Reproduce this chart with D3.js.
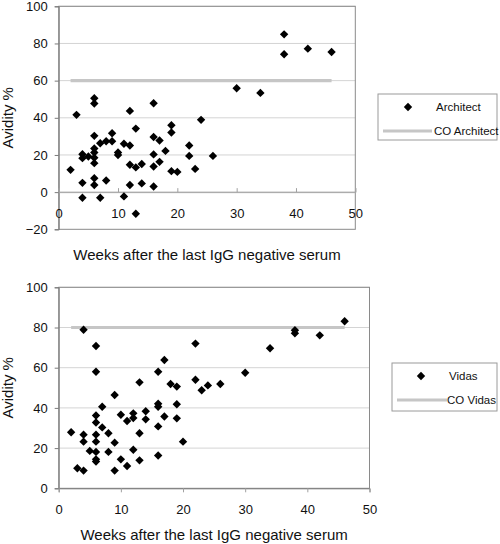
<!DOCTYPE html>
<html>
<head>
<meta charset="utf-8">
<script src="https://cdn.jsdelivr.net/npm/d3@7"></script>
<style>
  html, body { margin: 0; padding: 0; background: #fff; }
  svg { display: block; font-family: "Liberation Sans", Arial, sans-serif; }
</style>
</head>
<body>
<svg id="chart" width="500" height="544"></svg>
<script>
// ---- data ----
const xTicks = [0, 10, 20, 30, 40, 50];
const yTicksTop = [-20, 0, 20, 40, 60, 80, 100];
const yTicksBottom = [0, 20, 40, 60, 80, 100];

const archWeeks = [2, 3, 4, 4, 4, 4, 5, 6, 6, 6, 6, 6, 6, 6, 6, 6, 7, 7, 8, 8, 9, 9, 10, 10, 11, 11,
  12, 12, 12, 12, 13, 13, 13, 14, 14, 16, 16, 16, 16, 16, 17, 17, 18, 19, 19, 19, 20, 22, 22, 23, 24, 26,
  30, 34, 38, 38, 42, 46];
const archAvidity = [12, 41.6, 20.4, 18.3, 5.0, -3.0, 19.2, 50.5, 47.7, 30.3, 23.5, 21.3, 18.5, 15.6, 7.5, 3.8,
  26.3, -3, 27.4, 6.3, 31.7, 27.4, 21.3, 20, 26, -2.3, 43.7, 25.1, 14.7, 3.8, 34.2, 13.3, -11.6, 15.1, 4.7,
  47.8, 29.7, 20.3, 13.8, 3.0, 27.8, 16.3, 22.2, 36, 32.1, 11.3, 10.9, 25.1, 19.5, 12.5, 38.9, 19.5,
  55.9, 53.4, 84.9, 74.2, 77.2, 75.4];

const vidasWeeks = [2, 3, 4, 4, 4, 4, 5, 6, 6, 6, 6, 6, 6, 6, 6, 6, 7, 7, 8, 8, 9, 9, 9, 10, 10, 11, 11,
  12, 12, 12, 13, 13, 13, 14, 14, 16, 16, 16, 16, 16, 17, 17, 18, 19, 19, 19, 20, 22, 22, 23, 24, 26,
  30, 34, 38, 38, 42, 46];
const vidasAvidity = [27.9, 10, 78.9, 26.7, 23.2, 8.8, 18.6, 70.8, 58, 36.2, 32.7, 26.7, 23.2, 18.1, 14.4, 13.3,
  40.6, 30.3, 27.4, 18.1, 46.4, 22.7, 8.8, 36.6, 14.4, 33.5, 11.1, 37.3, 35, 19.2, 52.7, 27.4, 13.9,
  38.3, 34.3, 58, 42.1, 40.6, 30.8, 16.3, 63.8, 35.7, 51.9, 50.6, 41.8, 34.8, 23.2, 72, 54, 48.8, 51.2, 51.9,
  57.5, 69.7, 78.6, 77.1, 76.1, 83.1];

const cutoffWeeks = [2, 46];
const cutoffArchitect = 60;
const cutoffVidas = 80;

const xTitle = "Weeks after the last IgG negative serum";
const yTitle = "Avidity %";

// ---- drawing ----
const svg = d3.select("#chart");
const FONT = "Liberation Sans, Arial, sans-serif";

function diamond(r) { return `M0,${-r}L${r},0L0,${r}L${-r},0Z`; }

function drawPanel(cfg) {
  const g = svg.append("g");
  const x = d3.scaleLinear().domain([0, 50]).range([cfg.left, cfg.right]);
  const y = d3.scaleLinear().domain(cfg.yDomain).range([cfg.bottom, cfg.top]);

  // gridlines
  g.append("g").selectAll("line").data(cfg.yTicks.filter(v => v !== cfg.yDomain[0]))
    .join("line")
    .attr("x1", cfg.left).attr("x2", cfg.right)
    .attr("y1", d => y(d)).attr("y2", d => y(d))
    .attr("stroke", d => (d === 0 && cfg.xAxisAtZero) ? "#a8a8a8" : "#d4d4d4")
    .attr("stroke-width", 1);

  // cutoff line
  g.append("line")
    .attr("x1", x(cutoffWeeks[0])).attr("x2", x(cutoffWeeks[1]))
    .attr("y1", y(cfg.cutoff)).attr("y2", y(cfg.cutoff))
    .attr("stroke", "#c6c6c6").attr("stroke-width", 3.2);

  // plot border
  g.append("rect")
    .attr("x", cfg.left).attr("y", cfg.top)
    .attr("width", cfg.right - cfg.left).attr("height", cfg.bottom - cfg.top)
    .attr("fill", "none").attr("stroke", "#8a8a8a").attr("stroke-width", 1);

  // y axis
  const yAxis = d3.axisLeft(y).tickValues(cfg.yTicks).tickSize(4).tickPadding(7)
    .tickFormat(d3.format("d"));
  const ya = g.append("g").attr("transform", `translate(${cfg.left},0)`).call(yAxis);
  ya.select(".domain").attr("stroke", "#7a7a7a");
  ya.selectAll(".tick line").attr("stroke", "#7a7a7a");
  ya.selectAll(".tick text").attr("font-size", 13).attr("font-family", FONT).attr("fill", "#111");

  // x axis
  const xAxisY = cfg.xAxisAtZero ? y(0) : cfg.bottom;
  const xAxis = (cfg.xAxisAtZero ? d3.axisTop(x).tickSize(4) : d3.axisBottom(x).tickSize(4))
    .tickValues(xTicks).tickFormat(d3.format("d"));
  const xa = g.append("g").attr("transform", `translate(0,${xAxisY})`).call(xAxis);
  xa.select(".domain").attr("stroke", cfg.xAxisAtZero ? "#a8a8a8" : "#7a7a7a");
  xa.selectAll(".tick line").attr("stroke", "#a0a0a0");
  xa.selectAll(".tick text")
    .attr("font-size", 13).attr("font-family", FONT).attr("fill", "#111")
    .attr("dy", null)
    .attr("y", cfg.xLabelBaseline - xAxisY)
    .attr("text-anchor", "middle");

  // points
  g.append("g").selectAll("path").data(cfg.weeks.map((w, i) => [w, cfg.values[i]]))
    .join("path")
    .attr("d", diamond(4.2))
    .attr("transform", d => `translate(${x(d[0])},${y(d[1])})`)
    .attr("fill", "#000");

  // titles
  g.append("text")
    .attr("x", (cfg.left + cfg.right) / 2).attr("y", cfg.xTitleBaseline)
    .attr("text-anchor", "middle").attr("font-size", 15).attr("font-family", FONT).attr("fill", "#111")
    .text(xTitle);
  g.append("text")
    .attr("transform", `translate(13,${(cfg.top + cfg.bottom) / 2}) rotate(-90)`)
    .attr("text-anchor", "middle").attr("font-size", 15).attr("font-family", FONT).attr("fill", "#111")
    .text(yTitle);

  // legend
  const L = cfg.legend;
  const lg = g.append("g");
  lg.append("rect").attr("x", L.x).attr("y", L.y).attr("width", L.w).attr("height", L.h)
    .attr("fill", "#fff").attr("stroke", "#9a9a9a").attr("stroke-width", 1);
  lg.append("path").attr("d", diamond(4.2))
    .attr("transform", `translate(${L.markerX},${L.y + 13})`).attr("fill", "#000");
  lg.append("text").attr("x", L.text1X).attr("y", L.y + 17)
    .attr("font-size", 11.5).attr("font-family", FONT).attr("fill", "#111").text(cfg.seriesName);
  lg.append("line").attr("x1", L.lineX1).attr("x2", L.lineX2)
    .attr("y1", L.y + 37).attr("y2", L.y + 37)
    .attr("stroke", "#c6c6c6").attr("stroke-width", 3.2);
  lg.append("text").attr("x", L.text2X).attr("y", L.y + 41)
    .attr("font-size", 11.5).attr("font-family", FONT).attr("fill", "#111").text("CO " + cfg.seriesName);
}

drawPanel({
  left: 58.7, right: 355.3, top: 6.3, bottom: 229.3,
  yDomain: [-20, 100], yTicks: yTicksTop, xAxisAtZero: true,
  xLabelBaseline: 218, xTitleBaseline: 260,
  weeks: archWeeks, values: archAvidity, cutoff: cutoffArchitect,
  seriesName: "Architect",
  legend: { x: 378, y: 94, w: 119, h: 46, markerX: 408, text1X: 436, lineX1: 383, lineX2: 432, text2X: 434 }
});

drawPanel({
  left: 58.7, right: 369.5, top: 287.3, bottom: 488.3,
  yDomain: [0, 100], yTicks: yTicksBottom, xAxisAtZero: false,
  xLabelBaseline: 514, xTitleBaseline: 540,
  weeks: vidasWeeks, values: vidasAvidity, cutoff: cutoffVidas,
  seriesName: "Vidas",
  legend: { x: 392, y: 363, w: 105, h: 48, markerX: 421, text1X: 449, lineX1: 397, lineX2: 447, text2X: 447 }
});
</script>
</body>
</html>
